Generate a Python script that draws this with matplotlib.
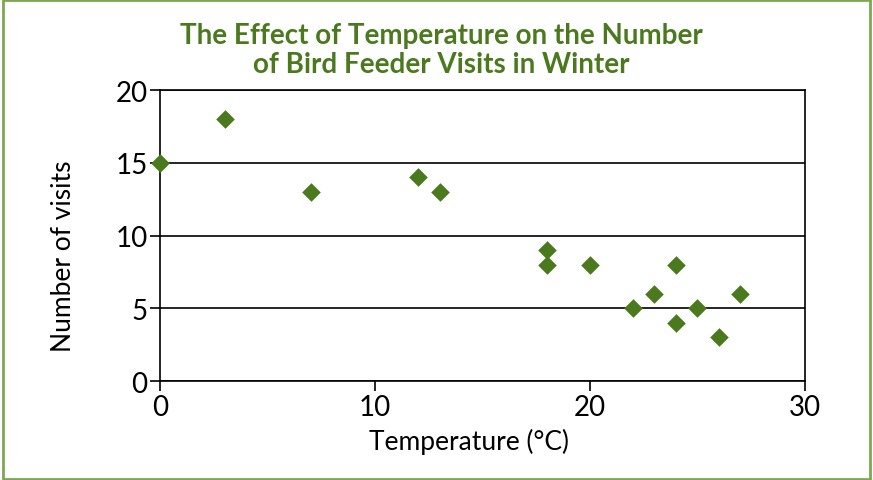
import matplotlib
matplotlib.use("Agg")
import matplotlib.pyplot as plt
from matplotlib.patches import Rectangle

# temperature (deg C) and feeder visits
temperature = [0, 3, 7, 12, 13, 18, 18, 20, 22, 23, 24, 24, 25, 26, 27]
visits = [15, 18, 13, 14, 13, 9, 8, 8, 5, 6, 8, 4, 5, 3, 6]

x_ticks = [0, 10, 20, 30]
y_ticks = [0, 5, 10, 15, 20]

GREEN = "#4b7a1e"

plt.rcParams["font.family"] = ["Lato", "DejaVu Sans"]

fig = plt.figure(figsize=(8.73, 4.81), dpi=100)
ax = fig.add_axes([0.1833, 0.2058, 0.7388, 0.605])

ax.scatter(temperature, visits, marker="D", s=90, color=GREEN,
           zorder=5, clip_on=False, linewidths=0)

ax.set_xlim(0, 30)
ax.set_ylim(0, 20)
ax.set_xticks(x_ticks)
ax.set_yticks(y_ticks)
ax.yaxis.grid(True, color="black", linewidth=1.2)
ax.set_axisbelow(True)
for s in ax.spines.values():
    s.set_linewidth(1.2)
    s.set_color("black")
ax.tick_params(direction="out", length=7, width=1.2, labelsize=20, pad=2,
               top=False, right=False)

ax.set_xlabel("Temperature (°C)", fontsize=19)
ax.set_ylabel("Number of visits", fontsize=19)
ax.xaxis.set_label_coords(0.479, -0.16)
ax.yaxis.set_label_coords(-0.13, 0.433)

fig.text(0.506, 0.895, "The Effect of Temperature on the Number\nof Bird Feeder Visits in Winter",
         ha="center", va="center", fontsize=20, fontweight="bold", color=GREEN,
         linespacing=1.18)

# frame round the whole figure
fig.patches.append(Rectangle((0.003, 0.003), 0.994, 0.995, transform=fig.transFigure,
                             fill=False, edgecolor="#7da84f", linewidth=2))

fig.savefig("out.png", dpi=100)
